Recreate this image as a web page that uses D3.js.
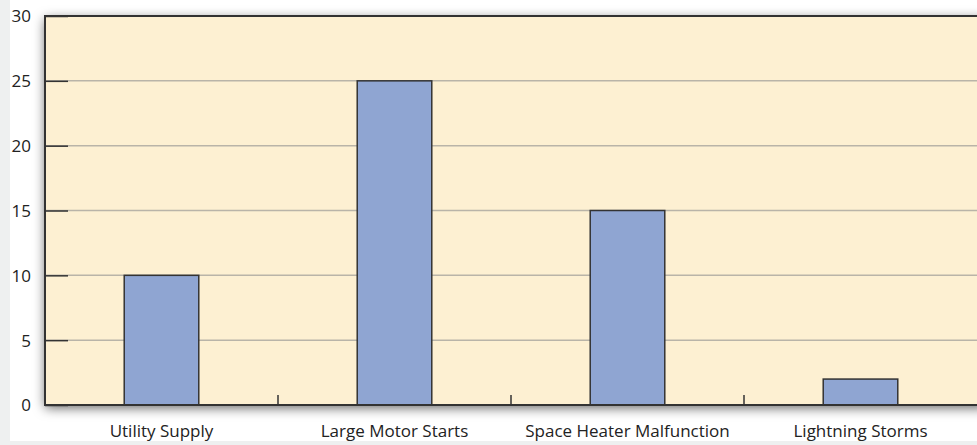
<!DOCTYPE html>
<html><head><meta charset="utf-8">
<script src="https://cdn.jsdelivr.net/npm/d3@7/dist/d3.min.js"></script>
<style>
html,body{margin:0;padding:0;background:#eef0f0;}
svg{display:block;}
</style></head>
<body><svg id="c" width="977" height="445"></svg>
<script>
const categories = ["Utility Supply","Large Motor Starts","Space Heater Malfunction","Lightning Storms"];
const values = [10,25,15,2];
const yTicks = [0,5,10,15,20,25,30];

const W=977,H=445;
const m={left:45,right:0,top:16,bottom:40};
const svg=d3.select("#c");
const defs=svg.append("defs");
const f=defs.append("filter").attr("id","sh").attr("x","-5%").attr("y","-10%").attr("width","110%").attr("height","120%");
f.append("feDropShadow").attr("dx",0).attr("dy",3).attr("stdDeviation",6).attr("flood-color","#000").attr("flood-opacity",0.6);

svg.append("rect").attr("x",10).attr("y",0).attr("width",W-10).attr("height",441).attr("fill","#ffffff");

const x=d3.scaleBand().domain(categories).range([m.left,W-m.right]).paddingInner(0).paddingOuter(0);
const y=d3.scaleLinear().domain([0,30]).range([H-m.bottom,m.top]);

const x0=m.left,x1=W-m.right,y0=y(0),y1=y(30);
svg.append("rect").attr("x",x0).attr("y",y1).attr("width",x1-x0+10).attr("height",y0-y1)
  .attr("fill","#fdf0d2").attr("filter","url(#sh)");

// gridlines
svg.append("g").selectAll("line").data(yTicks.filter(d=>d>0&&d<30)).join("line")
  .attr("x1",x0).attr("x2",x1).attr("y1",d=>y(d)).attr("y2",d=>y(d))
  .attr("stroke","#b9b4a8").attr("stroke-width",1.5);

// bars
const bw=x.bandwidth()*0.32;
svg.append("g").selectAll("rect").data(values).join("rect")
  .attr("x",(d,i)=>x(categories[i])+x.bandwidth()/2-bw/2)
  .attr("y",d=>y(d)).attr("width",bw).attr("height",d=>y(0)-y(d))
  .attr("fill","#8fa5d2").attr("stroke","#333").attr("stroke-width",1.5);

// frame
svg.append("path").attr("d",`M${x1+5},${y1}H${x0}V${y0}H${x1+5}`).attr("fill","none").attr("stroke","#333").attr("stroke-width",2);

// y axis
const ya=d3.axisLeft(y).tickValues(yTicks).tickSize(-23);
const gy=svg.append("g").attr("transform",`translate(${x0},0)`).call(ya);
gy.select(".domain").remove();
gy.selectAll(".tick line").attr("stroke","#333").attr("stroke-width",1.5);
gy.selectAll(".tick text").attr("x",-14).attr("text-anchor","end").attr("dy","0.35em")
  .attr("font-family","'Open Sans', sans-serif").attr("font-size",17).attr("fill","#222");

// x axis
const xa=d3.axisBottom(x).tickSize(0).tickPadding(20);
const gx=svg.append("g").attr("transform",`translate(0,${y0})`).call(xa);
gx.select(".domain").remove();
gx.selectAll(".tick text").attr("font-family","'Open Sans', sans-serif").attr("font-size",17).attr("fill","#222");
// separators
svg.append("g").selectAll("line").data(categories.slice(1)).join("line")
  .attr("x1",d=>x(d)).attr("x2",d=>x(d)).attr("y1",y0).attr("y2",y0-10)
  .attr("stroke","#333").attr("stroke-width",1.5);
</script></body></html>
